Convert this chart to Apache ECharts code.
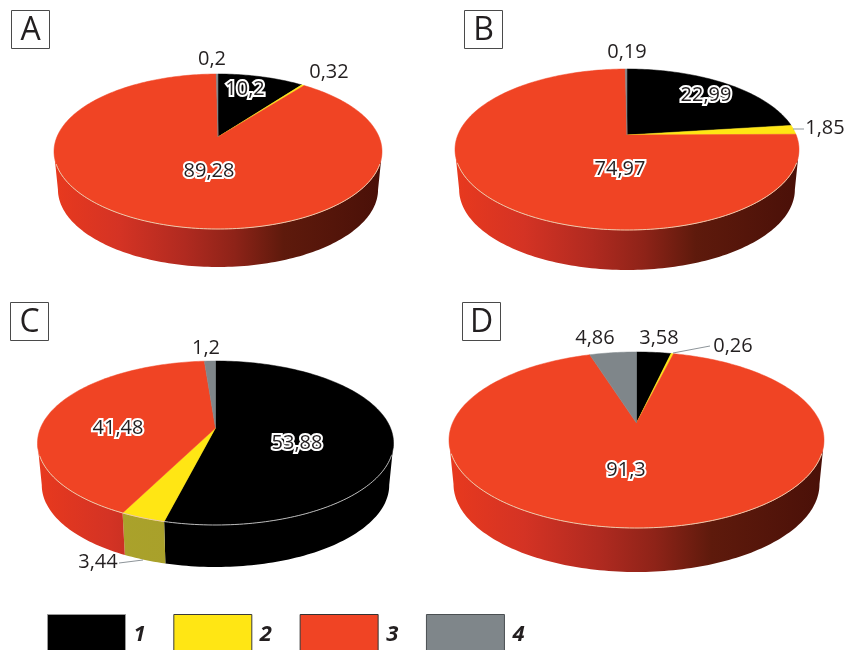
<!DOCTYPE html>
<html><head><meta charset="utf-8">
<style>html,body{margin:0;padding:0;background:#fff}#c{width:846px;height:650px}</style>
<script src="https://cdn.jsdelivr.net/npm/echarts@6/dist/echarts.min.js"></script>
</head><body><div id="c"></div>
<script>
// ---- data ----
const panels = ['A', 'B', 'C', 'D'];
const categories = ['1', '2', '3', '4'];
const values1 = [10.2, 22.99, 53.88, 3.58];
const values2 = [0.32, 1.85, 3.44, 0.26];
const values3 = [89.28, 74.97, 41.48, 91.3];
const values4 = [0.2, 0.19, 1.2, 4.86];
const allValues = [values1, values2, values3, values4];

// ---- layout and style ----
const geometry = [
  { cx: 218, cy: 137, rx: 164, top: 63, bottom: 92, depth: 38, box: [11, 10] },
  { cx: 627, cy: 135, rx: 172, top: 66, bottom: 95, depth: 40, box: [464, 10] },
  { cx: 215.5, cy: 428, rx: 178, top: 67, bottom: 97, depth: 42, box: [10, 302] },
  { cx: 636.5, cy: 423, rx: 187.5, top: 71, bottom: 105, depth: 44, box: [462, 302] }
];
// label centre, halo flag and optional leader line: per panel, per category
const labelLayout = [
  [{ p: [245, 89], halo: 1 }, { p: [329, 72] }, { p: [209, 171], halo: 1 }, { p: [212, 59] }],
  [{ p: [706, 95], halo: 1 }, { p: [825, 128], lead: [[793, 129], [804, 129]] }, { p: [620, 169], halo: 1 }, { p: [627, 52] }],
  [{ p: [297, 443], halo: 1 }, { p: [98, 562], lead: [[119, 563], [143, 560]] }, { p: [118, 428], halo: 1 }, { p: [206, 348] }],
  [{ p: [659, 338] }, { p: [733, 346], lead: [[673, 353], [710, 346]] }, { p: [626, 470], halo: 1 }, { p: [595, 338] }]
];
const topColors = ['#000000', '#ffe614', '#f04424', '#7f868a'];
const sideStops = [
  [[0, '#000'], [1, '#000']],
  [[0, '#aca42c'], [1, '#a39a28']],
  [[0, '#e8391e'], [0.2, '#d43324'], [0.4, '#b02a20'], [0.55, '#8e2318'], [0.7, '#5e1a0c'], [1, '#4a1008']],
  [[0, '#6a7074'], [1, '#3a3d40']]
];
const FONT = '"Open Sans"';

function tilt(g) { return (g.bottom - g.top) / (g.bottom + g.top); }
function projector(g) {
  const k = tilt(g);
  const S = g.bottom * (1 - k);
  const R = g.rx * Math.sqrt(1 - k * k);
  return pct => {
    const a = pct / 100 * 2 * Math.PI, u = Math.sin(a), v = -Math.cos(a), w = 1 - k * v;
    return [g.cx + R * u / w, g.cy + S * v / w];
  };
}
function arc(g, from, to) {
  const P = projector(g), n = Math.max(2, Math.ceil((to - from) * 3)), pts = [];
  for (let i = 0; i <= n; i++) pts.push(P(from + (to - from) * i / n));
  return pts;
}
function renderer(cat) {
  return function (params, api) {
    const pi = api.value(0), val = api.value(1), start = api.value(2), g = geometry[pi];
    const children = [];
    const rim = arc(g, start, start + val);
    const base = p => [g.cx + (p[0] - g.cx) * 0.976, p[1] + g.depth];
    // side wall: only the front part of the rim, between the two widest points
    const p0 = Math.acos(-tilt(g)) / (2 * Math.PI) * 100;
    const from = Math.max(start, p0), to = Math.min(start + val, 100 - p0);
    if (to > from) {
      const front = arc(g, from, to);
      children.push({
        type: 'polygon', z2: 1, shape: { points: front.concat(front.map(base).reverse()) },
        style: { lineWidth: 0, fill: { type: 'linear', global: true, x: g.cx - g.rx, y: 0, x2: g.cx + g.rx, y2: 0, colorStops: sideStops[cat].map(s => ({ offset: s[0], color: s[1] })) } }
      });
    }
    // top face
    children.push({
      type: 'polygon', z2: 10, shape: { points: [[g.cx, g.cy]].concat(rim) },
      style: { fill: topColors[cat], stroke: topColors[cat], lineWidth: 0.5 }
    });
    // light rim on the front edge
    const midY = g.cy + (g.bottom - g.top) / 2 + 12;
    const frontRim = rim.filter(p => p[1] > midY);
    if (frontRim.length > 1) children.push({
      type: 'polyline', z2: 11, shape: { points: frontRim },
      style: { fill: 'none', stroke: cat === 0 ? '#b8b8b8' : '#ecc9ac', lineWidth: 1 }
    });
    // label
    const L = labelLayout[pi][cat];
    if (L.lead) children.push({
      type: 'polyline', z2: 12, shape: { points: L.lead },
      style: { fill: 'none', stroke: '#8d9499', lineWidth: 1 }
    });
    children.push({
      type: 'text', z2: 20, x: L.p[0], y: L.p[1],
      style: Object.assign({
        text: String(val).replace('.', ','), font: '20px ' + FONT, fill: '#231f20',
        align: 'center', verticalAlign: 'middle'
      }, L.halo ? { stroke: '#fff', lineWidth: 4 } : {})
    });
    return { type: 'group', children };
  };
}
const series = categories.map((name, cat) => ({
  type: 'custom', name, coordinateSystem: 'none', silent: true, animation: false,
  itemStyle: { color: topColors[cat] },
  encode: { tooltip: 1 },
  renderItem: renderer(cat),
  data: panels.map((_, pi) => {
    let start = 0;
    for (let c = 0; c < cat; c++) start += allValues[c][pi];
    return [pi, allValues[cat][pi], start];
  })
}));
const graphic = panels.flatMap((t, i) => {
  const b = geometry[i].box;
  return [
    { type: 'rect', shape: { x: b[0] + 0.5, y: b[1] + 0.5, width: 38, height: 38 }, style: { fill: '#fff', stroke: '#4a4a4a', lineWidth: 1 } },
    { type: 'text', x: b[0] + 19.5, y: b[1] + 20.5, style: { text: t, font: '32px ' + FONT, fill: '#231f20', align: 'center', verticalAlign: 'middle' } }
  ];
});
const chart = echarts.init(document.getElementById('c'), null, { renderer: 'canvas', width: 846, height: 650 });
chart.setOption({
  backgroundColor: '#fff', animation: false,
  legend: {
    left: 47, top: 614, orient: 'horizontal', selectedMode: false, padding: 0,
    itemWidth: 78, itemHeight: 40, itemGap: 27.7,
    data: categories.map((name, i) => ({
      name, icon: 'rect',
      itemStyle: { color: topColors[i], borderColor: ['#9a9a9a', '#3a3a3a', '#333', '#4a4f52'][i], borderWidth: 1 }
    })),
    textStyle: { fontFamily: FONT, fontWeight: 'bold', fontStyle: 'italic', fontSize: 22, color: '#231f20', padding: [0, 0, 0, 3] }
  },
  graphic,
  series
});
</script></body></html>
